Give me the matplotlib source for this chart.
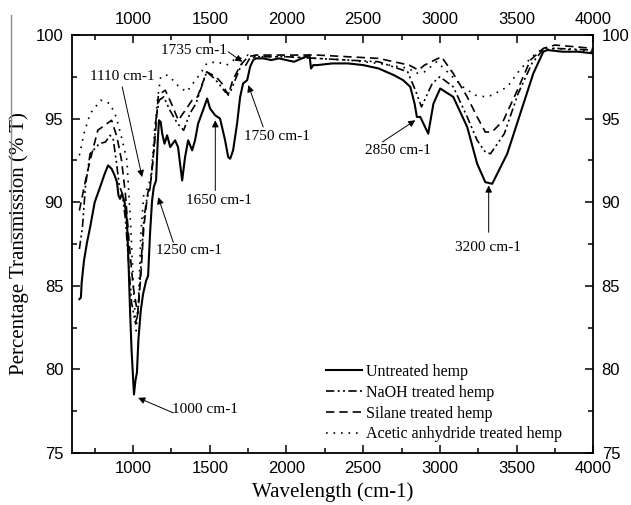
import numpy as np
import matplotlib
matplotlib.use('Agg')
from matplotlib import pyplot as plt
from matplotlib.lines import Line2D

# wavenumber (cm-1) and % transmission
untreated_x = [650, 660, 665, 680, 700, 720, 750, 785, 815, 837, 860, 880, 895, 905, 915, 928,
               945, 960, 970, 980, 990, 1000, 1006, 1015, 1025, 1035, 1050, 1065, 1085, 1098,
               1111, 1124, 1135, 1150, 1160, 1169, 1180, 1190, 1205, 1222, 1242, 1274, 1293,
               1320, 1339, 1359, 1385, 1404, 1424, 1456, 1483, 1502, 1535, 1567, 1600, 1620,
               1633, 1652, 1678, 1698, 1717, 1744, 1763, 1783, 1800, 1850, 1900, 1950, 2000,
               2050, 2100, 2150, 2160, 2175, 2200, 2300, 2400, 2500, 2600, 2700, 2760, 2807,
               2835, 2850, 2872, 2924, 2958, 3002, 3087, 3178, 3243, 3296, 3341, 3439, 3524,
               3609, 3674, 3700, 3800, 3900, 4000]
untreated_y = [84.2, 84.3, 85.2, 86.5, 87.6, 88.5, 90.0, 90.9, 91.7, 92.2, 92.0, 91.6, 91.2, 90.4,
               90.2, 90.5, 90.0, 88.9, 86.5, 83.6, 81.2, 79.5, 78.5, 79.3, 79.8, 81.8, 83.5,
               84.5, 85.3, 85.6, 88.2, 90.1, 90.9, 91.3, 93.5, 94.9, 94.8, 94.1, 93.5, 94.0,
               93.3, 93.7, 93.3, 91.3, 92.7, 93.7, 93.1, 93.7, 94.7, 95.5, 96.2, 95.6, 95.2,
               95.0, 93.7, 92.7, 92.6, 93.1, 94.7, 96.3, 97.1, 97.3, 98.1, 98.5, 98.6, 98.6,
               98.5, 98.6, 98.5, 98.4, 98.6, 98.8, 98.0, 98.2, 98.2, 98.3, 98.3, 98.2, 98.0,
               97.6, 97.3, 96.9, 95.9, 95.1, 95.1, 94.1, 95.9, 96.8, 96.3, 94.5, 92.3, 91.2,
               91.1, 92.9, 95.3, 97.7, 99.0, 99.1, 99.0, 99.0, 98.9]

naoh_x = [650, 670, 690, 720, 780, 820, 850, 870, 890, 910, 930, 950, 970, 990, 1015, 1030,
          1050, 1070, 1090, 1110, 1130, 1150, 1170, 1200, 1240, 1290, 1330, 1370, 1410, 1450,
          1480, 1530, 1575, 1600, 1630, 1665, 1710, 1735, 1760, 1800, 2000, 2200, 2400, 2600,
          2790, 2840, 2880, 2950, 3000, 3087, 3178, 3243, 3296, 3330, 3420, 3510, 3600, 3670,
          3750, 4000]
naoh_y = [87.2, 88.5, 91.0, 92.9, 93.5, 93.6, 94.0, 93.8, 92.5, 91.0, 90.5, 89.0, 86.5, 84.0,
          82.8, 83.2, 86.0, 89.0, 90.2, 90.8, 92.5, 95.0, 96.1, 96.3, 95.5, 94.7, 94.3, 95.3,
          95.9, 97.0, 97.8, 97.4, 96.9, 96.6, 96.5, 97.3, 98.3, 98.2, 98.6, 98.7, 98.7, 98.6,
          98.5, 98.4, 97.8, 96.7, 95.7, 97.1, 97.5, 96.9, 95.1, 93.7, 93.0, 92.9, 94.1, 96.5,
          98.3, 99.1, 99.2, 99.1]

silane_x = [650, 690, 720, 770, 860, 895, 925, 950, 975, 1000, 1030, 1050, 1070, 1095, 1115,
            1140, 1165, 1210, 1250, 1295, 1340, 1385, 1420, 1480, 1540, 1580, 1620, 1650, 1700,
            1750, 1800, 2000, 2200, 2400, 2600, 2800, 2860, 2900, 3010, 3087, 3178, 3243, 3296,
            3340, 3415, 3505, 3590, 3674, 3750, 4000]
silane_y = [89.5, 91.3, 92.5, 94.3, 94.9, 93.9, 92.5, 90.5, 87.5, 85.0, 83.3, 85.5, 88.5, 90.5,
            91.2, 93.5, 96.4, 96.7, 95.9, 94.9, 95.5, 96.1, 96.3, 97.8, 97.5, 97.1, 96.4, 97.3,
            98.2, 98.7, 98.8, 98.8, 98.8, 98.7, 98.6, 98.2, 97.9, 98.2, 98.7, 97.7, 96.3, 95.1,
            94.2, 94.2, 94.9, 96.7, 98.5, 99.2, 99.4, 99.2]

acetic_x = [650, 680, 720, 790, 850, 890, 930, 960, 985, 1005, 1020, 1035, 1050, 1070, 1100,
            1120, 1140, 1160, 1180, 1220, 1260, 1300, 1350, 1390, 1440, 1480, 1545, 1610, 1655,
            1700, 1750, 1800, 2000, 2200, 2400, 2600, 2800, 2840, 2900, 2980, 3060, 3150, 3230,
            3300, 3340, 3440, 3520, 3600, 3674, 3750, 4000]
acetic_y = [92.8, 94.1, 95.3, 96.1, 95.9, 95.1, 93.7, 92.5, 88.5, 84.5, 82.3, 84.0, 88.0, 90.5,
            90.9, 91.8, 94.3, 96.2, 97.5, 97.6, 97.3, 96.9, 96.6, 97.1, 97.7, 98.3, 98.4, 98.2,
            98.5, 98.6, 98.8, 98.7, 98.7, 98.6, 98.5, 98.3, 98.0, 97.7, 97.8, 98.4, 97.7, 96.9,
            96.4, 96.3, 96.4, 96.9, 97.9, 98.7, 99.2, 99.2, 99.0]

# (label, text x, text y, arrow tail, arrow tip)
notes = [('1735 cm-1', 1400, 99.05, (1620, 99.0), (1712, 98.4)),
         ('1110 cm-1', 929, 97.5, (929, 96.9), (1059, 91.5)),
         ('1250 cm-1', 1366, 87.1, (1262, 87.6), (1164, 90.3)),
         ('1650 cm-1', 1562, 90.1, (1536, 90.7), (1536, 94.9)),
         ('1750 cm-1', 1938, 93.9, (1848, 94.5), (1751, 97.0)),
         ('2850 cm-1', 2724, 93.1, (2625, 93.6), (2840, 94.9)),
         ('3200 cm-1', 3310, 87.3, (3318, 88.2), (3318, 91.0)),
         ('1000 cm-1', 1470, 77.6, (1262, 77.4), (1033, 78.3))]

serif = 'Liberation Serif'
sans = 'Liberation Sans'

fig = plt.figure(figsize=(6.31, 5.05), dpi=100)
ax = fig.add_axes([71.7/631, 52/505, 521.6/631, 418/505])

ax.plot(untreated_x, untreated_y, c='k', lw=1.5, label='Untreated hemp')
ax.plot(naoh_x, naoh_y, c='k', lw=1.2, dashes=(5, 2, 1.2, 2, 1.2, 2), label='NaOH treated hemp')
ax.plot(silane_x, silane_y, c='k', lw=1.2, dashes=(5, 3), label='Silane treated hemp')
ax.plot(acetic_x, acetic_y, c='k', lw=1.2, dashes=(1, 3.5), label='Acetic anhydride treated hemp')

for txt, tx, ty, tail, tip in notes:
    ax.text(tx, ty, txt, family=serif, size=11, ha='center', va='center')
    ax.annotate('', xy=tip, xytext=tail,
                arrowprops=dict(arrowstyle='-|>', color='k', lw=0.7, mutation_scale=10,
                                shrinkA=0, shrinkB=0))

ax.set_xlim(600, 4000)
ax.set_ylim(75, 100)
ax.set_xticks(np.arange(1000, 4001, 500))
ax.set_xticks(np.arange(750, 4001, 250), minor=True)
ax.set_yticks(np.arange(75, 101, 5))
ax.set_yticks(np.arange(77.5, 100, 5), minor=True)
ax.tick_params(which='both', direction='in', top=True, right=True,
               labeltop=True, labelright=True, width=1.1)
ax.tick_params(which='major', length=6, pad=6, labelsize=12, labelfontfamily=sans)
ax.tick_params(which='minor', length=3.5)
for s in ax.spines.values():
    s.set_linewidth(1.3)

ax.set_xlabel('Wavelength (cm-1)', family=serif, size=15, labelpad=4)
ax.set_ylabel('Percentage Transmission (% T)', family=serif, size=15, labelpad=5)

ax.legend(loc='upper left', bbox_to_anchor=(0.487, 0.213), frameon=False,
          prop=dict(family=serif, size=11.5), handlelength=2.3, handletextpad=0.25,
          labelspacing=0.3, borderpad=0, borderaxespad=0)

# stray grey rule at the left edge of the original scan
fig.add_artist(Line2D([11/631, 11/631], [1 - 15/505, 1 - 242/505], color='0.55', lw=1))

plt.savefig('out.png', dpi=100)
